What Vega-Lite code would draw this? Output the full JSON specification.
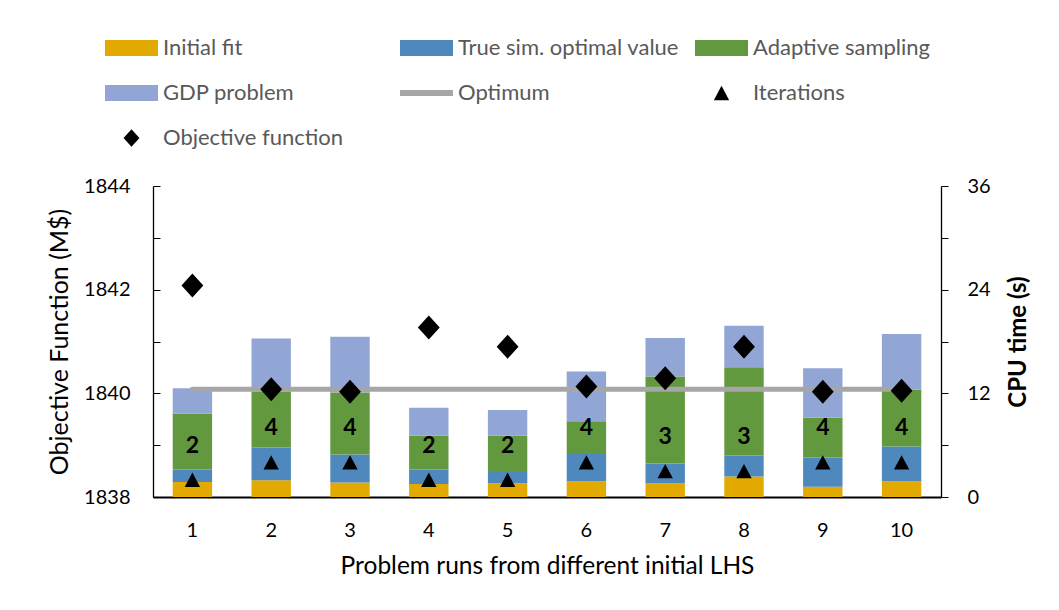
{
  "$schema": "https://vega.github.io/schema/vega-lite/v6.json",
  "width": 788,
  "height": 311,
  "autosize": {"type": "none"},
  "padding": {"left": 153, "top": 186, "right": 118, "bottom": 113},
  "background": "white",
  "config": {
    "view": {"stroke": null},
    "font": "Lato",
    "axis": {"labelFont": "Lato", "titleFont": "Lato", "labelColor": "#000000", "titleColor": "#000000", "domainColor": "#000000", "tickColor": "#000000", "grid": false, "labelFontSize": 20, "titleFontSize": 22, "titleFontWeight": "normal"},
    "legend": {
      "orient": "none", "legendX": -48, "legendY": -148, "columns": 3, "direction": "horizontal",
      "gridAlign": "all", "columnPadding": 16, "rowPadding": 23, "symbolSize": 2809, "clipHeight": 20,
      "labelFont": "Lato", "labelFontSize": 22, "labelColor": "#595959", "labelOffset": 5, "labelLimit": 400,
      "symbolStrokeWidth": 0, "padding": 0, "symbolOpacity": 1
    }
  },
  "datasets": {
    "seg": [
      {"run": 1, "series": "Initial fit", "k": 1, "cpu": 1.74},
      {"run": 1, "series": "True sim. optimal value", "k": 2, "cpu": 1.44},
      {"run": 1, "series": "Adaptive sampling", "k": 3, "cpu": 6.50},
      {"run": 1, "series": "GDP problem", "k": 4, "cpu": 2.91},
      {"run": 2, "series": "Initial fit", "k": 1, "cpu": 1.94},
      {"run": 2, "series": "True sim. optimal value", "k": 2, "cpu": 3.80},
      {"run": 2, "series": "Adaptive sampling", "k": 3, "cpu": 6.46},
      {"run": 2, "series": "GDP problem", "k": 4, "cpu": 6.15},
      {"run": 3, "series": "Initial fit", "k": 1, "cpu": 1.67},
      {"run": 3, "series": "True sim. optimal value", "k": 2, "cpu": 3.25},
      {"run": 3, "series": "Adaptive sampling", "k": 3, "cpu": 7.18},
      {"run": 3, "series": "GDP problem", "k": 4, "cpu": 6.45},
      {"run": 4, "series": "Initial fit", "k": 1, "cpu": 1.51},
      {"run": 4, "series": "True sim. optimal value", "k": 2, "cpu": 1.67},
      {"run": 4, "series": "Adaptive sampling", "k": 3, "cpu": 3.95},
      {"run": 4, "series": "GDP problem", "k": 4, "cpu": 3.21},
      {"run": 5, "series": "Initial fit", "k": 1, "cpu": 1.59},
      {"run": 5, "series": "True sim. optimal value", "k": 2, "cpu": 1.31},
      {"run": 5, "series": "Adaptive sampling", "k": 3, "cpu": 4.23},
      {"run": 5, "series": "GDP problem", "k": 4, "cpu": 2.94},
      {"run": 6, "series": "Initial fit", "k": 1, "cpu": 1.82},
      {"run": 6, "series": "True sim. optimal value", "k": 2, "cpu": 3.17},
      {"run": 6, "series": "Adaptive sampling", "k": 3, "cpu": 3.77},
      {"run": 6, "series": "GDP problem", "k": 4, "cpu": 5.76},
      {"run": 7, "series": "Initial fit", "k": 1, "cpu": 1.59},
      {"run": 7, "series": "True sim. optimal value", "k": 2, "cpu": 2.29},
      {"run": 7, "series": "Adaptive sampling", "k": 3, "cpu": 10.06},
      {"run": 7, "series": "GDP problem", "k": 4, "cpu": 4.46},
      {"run": 8, "series": "Initial fit", "k": 1, "cpu": 2.37},
      {"run": 8, "series": "True sim. optimal value", "k": 2, "cpu": 2.44},
      {"run": 8, "series": "Adaptive sampling", "k": 3, "cpu": 10.22},
      {"run": 8, "series": "GDP problem", "k": 4, "cpu": 4.80},
      {"run": 9, "series": "Initial fit", "k": 1, "cpu": 1.20},
      {"run": 9, "series": "True sim. optimal value", "k": 2, "cpu": 3.38},
      {"run": 9, "series": "Adaptive sampling", "k": 3, "cpu": 4.60},
      {"run": 9, "series": "GDP problem", "k": 4, "cpu": 5.73},
      {"run": 10, "series": "Initial fit", "k": 1, "cpu": 1.82},
      {"run": 10, "series": "True sim. optimal value", "k": 2, "cpu": 4.03},
      {"run": 10, "series": "Adaptive sampling", "k": 3, "cpu": 6.58},
      {"run": 10, "series": "GDP problem", "k": 4, "cpu": 6.43}
    ],
    "iters": [
      {"run": 1, "series": "Iterations", "iter": 2},
      {"run": 2, "series": "Iterations", "iter": 4},
      {"run": 3, "series": "Iterations", "iter": 4},
      {"run": 4, "series": "Iterations", "iter": 2},
      {"run": 5, "series": "Iterations", "iter": 2},
      {"run": 6, "series": "Iterations", "iter": 4},
      {"run": 7, "series": "Iterations", "iter": 3},
      {"run": 8, "series": "Iterations", "iter": 3},
      {"run": 9, "series": "Iterations", "iter": 4},
      {"run": 10, "series": "Iterations", "iter": 4}
    ],
    "objs": [
      {"run": 1, "series": "Objective function", "obj": 1842.08, "opt": 1840.08},
      {"run": 2, "series": "Objective function", "obj": 1840.08, "opt": 1840.08},
      {"run": 3, "series": "Objective function", "obj": 1840.03, "opt": 1840.08},
      {"run": 4, "series": "Objective function", "obj": 1841.27, "opt": 1840.08},
      {"run": 5, "series": "Objective function", "obj": 1840.90, "opt": 1840.08},
      {"run": 6, "series": "Objective function", "obj": 1840.13, "opt": 1840.08},
      {"run": 7, "series": "Objective function", "obj": 1840.29, "opt": 1840.08},
      {"run": 8, "series": "Objective function", "obj": 1840.90, "opt": 1840.08},
      {"run": 9, "series": "Objective function", "obj": 1840.03, "opt": 1840.08},
      {"run": 10, "series": "Objective function", "obj": 1840.05, "opt": 1840.08}
    ]
  },
  "layer": [
    {
      "layer": [
        {
          "data": {"name": "seg"},
          "mark": {"type": "bar"},
          "encoding": {
            "x": {"field": "run", "type": "ordinal", "scale": {"paddingInner": 0.5, "paddingOuter": 0.25},
              "axis": {"title": "Problem runs from different initial LHS", "labelAngle": 0, "ticks": false, "domainWidth": 2, "labelPadding": 23, "titlePadding": 14, "titleFontSize": 24.5}},
            "y": {"field": "cpu", "type": "quantitative", "stack": "zero",
              "scale": {"domain": [0, 36], "nice": false, "zero": true},
              "axis": {"orient": "right", "title": "CPU time (s)", "titleFontWeight": "bold", "titleFontSize": 24, "titleAngle": 270, "titleBaseline": "top",
                "values": [0, 6, 12, 18, 24, 30, 36], "labelExpr": "datum.value % 12 === 0 ? datum.label : ''",
                "tickSize": 7, "labelPadding": 19, "titlePadding": 16, "domainWidth": 1.3}},
            "color": {"field": "series", "type": "nominal",
              "scale": {"domain": ["Initial fit", "True sim. optimal value", "Adaptive sampling", "GDP problem", "Optimum", "Iterations", "Objective function"],
                "range": ["#E2AA00", "#4E88BD", "#62993E", "#91A6D5", "#A6A6A6", "#000000", "#000000"]},
              "legend": {"title": null}},
            "order": {"field": "k", "type": "quantitative"}
          }
        },
        {
          "data": {"name": "iters"},
          "mark": {"type": "point", "filled": true, "size": 2809, "opacity": 1},
          "encoding": {
            "x": {"field": "run", "type": "ordinal"},
            "y": {"field": "iter", "type": "quantitative"},
            "color": {"field": "series", "type": "nominal", "legend": {"title": null}},
            "shape": {"field": "series", "type": "nominal",
              "scale": {"domain": ["Initial fit", "True sim. optimal value", "Adaptive sampling", "GDP problem", "Optimum", "Iterations", "Objective function"],
                "range": ["M-1,-0.3H1V0.3H-1Z", "M-1,-0.3H1V0.3H-1Z", "M-1,-0.3H1V0.3H-1Z", "M-1,-0.3H1V0.3H-1Z", "M-1,-0.11H1V0.11H-1Z", "M0,-0.27L0.29,0.27L-0.29,0.27Z", "M0,-0.33L0.3,0L0,0.33L-0.3,0Z"]},
              "legend": {"title": null}}
          }
        },
        {
          "data": {"name": "iters"},
          "mark": {"type": "text", "font": "Lato", "fontWeight": "bold", "fontSize": 23, "dy": -34, "baseline": "middle", "color": "#000000"},
          "encoding": {
            "x": {"field": "run", "type": "ordinal"},
            "y": {"field": "iter", "type": "quantitative"},
            "text": {"field": "iter", "type": "quantitative"}
          }
        }
      ]
    },
    {
      "layer": [
        {
          "data": {"name": "objs"},
          "mark": {"type": "line", "color": "#A6A6A6", "strokeWidth": 5, "strokeCap": "round"},
          "encoding": {
            "x": {"field": "run", "type": "ordinal"},
            "y": {"field": "opt", "type": "quantitative", "scale": {"domain": [1838, 1844], "nice": false, "zero": false},
              "axis": {"orient": "left", "title": "Objective Function (M$)", "titleFontSize": 25, "values": [1838, 1839, 1840, 1841, 1842, 1843, 1844],
                "labelExpr": "datum.value % 2 === 0 ? datum.label : ''", "tickSize": -7, "labelPadding": 30, "titlePadding": 11, "domainWidth": 1.3, "format": "d"}}
          }
        },
        {
          "data": {"name": "objs"},
          "mark": {"type": "point", "filled": true, "size": 5311, "opacity": 1},
          "encoding": {
            "x": {"field": "run", "type": "ordinal"},
            "y": {"field": "obj", "type": "quantitative"},
            "color": {"field": "series", "type": "nominal", "legend": {"title": null}},
            "shape": {"field": "series", "type": "nominal", "legend": {"title": null}}
          }
        }
      ]
    }
  ],
  "resolve": {"scale": {"y": "independent"}}
}
